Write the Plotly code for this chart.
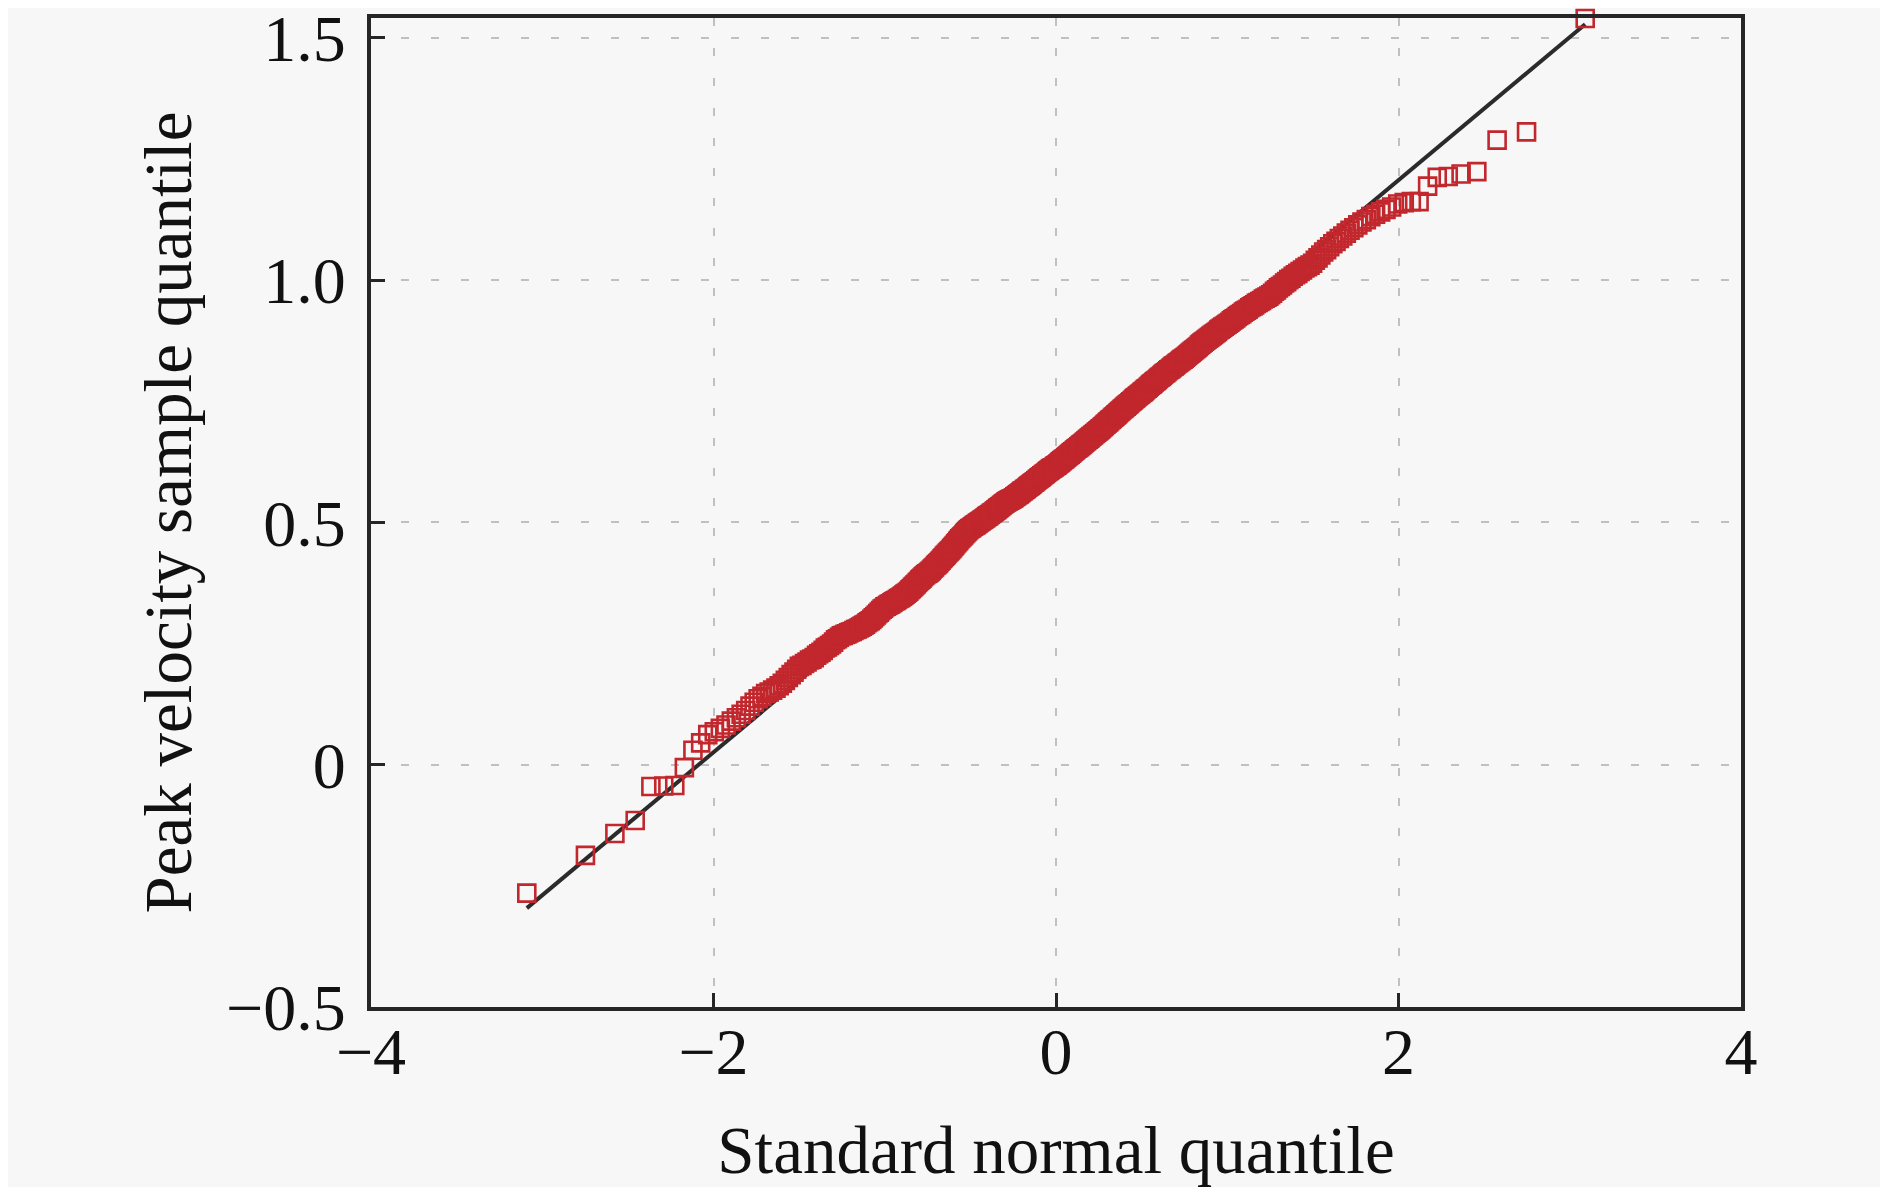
from statistics import NormalDist
import plotly.graph_objects as go

# sorted peak velocity sample (x1000)
peak_velocity_x1000 = [
    -265, -187, -142, -115, -45, -44, -43, -6, 30, 45, 62,
    68, 75, 82, 90, 97, 104, 112, 121, 129,
    136, 141, 147, 150, 154, 158, 163, 168, 174, 180, 186, 191, 197,
    203, 205, 209, 212, 216, 218, 221, 226, 229, 232, 236, 241, 243, 246, 249, 253, 258, 260, 263,
    266, 267, 269, 270, 272, 274, 275, 277, 279, 280, 282, 284, 286, 288, 290, 293, 295, 297, 300,
    303, 306, 309, 312, 315, 318, 321, 323,
    326, 327, 329, 331, 332, 334, 336, 338, 339, 341, 343, 344, 346, 348, 350, 352, 354, 356, 358,
    361, 363, 366, 368, 371, 373, 376, 378, 381, 383, 385, 388, 390, 392, 394,
    395, 397, 399, 401, 404, 406, 408, 411, 413, 415, 417, 420, 422, 425, 427, 430, 432, 434, 437,
    439, 441, 443, 446, 448, 451, 453, 456, 458, 461, 463, 466, 468, 470, 472, 474, 477, 479, 481,
    483, 485, 487,
    488, 489, 491, 492, 494, 495, 496, 498, 499, 501, 502, 503, 505, 506, 507, 509, 510, 512, 513,
    514, 516, 517, 519, 520, 521, 523, 524, 526, 527, 529, 530, 532, 533, 535, 536, 538, 539, 540,
    542, 543, 544, 545, 546, 547, 548, 549,
    550, 551, 553, 554, 555, 557, 558, 559, 561, 562, 564, 565, 566, 568, 569, 570, 572, 573, 575,
    576, 577, 579, 580, 582, 583, 584, 586, 587, 589, 590, 592, 593, 594, 596, 597, 599, 600, 601,
    603, 604, 606, 607, 608, 610, 611, 612, 613, 614, 616, 617,
    618, 619, 621, 622, 624, 625, 627, 628, 630, 631, 632, 634, 635, 637, 638, 640, 641, 643, 644,
    646, 647, 649, 650, 652, 653, 654, 656, 657, 659, 660, 662, 663, 665, 666, 668, 669, 671, 672,
    674, 675, 677, 678, 680, 681, 683, 684, 686, 687, 689,
    690, 692, 693, 695, 697, 698, 700, 702, 703, 705, 707, 708, 710, 712, 713, 715, 717, 718, 720,
    722, 723, 725, 727, 729, 730, 732, 734, 735, 737, 739, 740, 742, 744, 745, 747, 749, 750, 752,
    754, 756, 757, 759, 761, 762, 764, 765,
    767, 769, 770, 772, 774, 776, 777, 779, 781, 783, 785, 786, 788, 790, 792, 793, 795, 797, 799,
    800, 802, 804, 806, 808, 809, 811, 813, 815, 816, 818, 820, 822, 823, 825, 827, 829, 830, 832,
    834, 836, 837,
    839, 841, 843, 845, 847, 849, 851, 853, 855, 857, 859, 861, 863, 866, 868, 870, 872, 874, 876,
    878, 880, 882, 884, 886, 888, 890, 892, 894, 897, 899, 901, 903, 905, 907,
    909, 911, 913, 916, 918, 920, 922, 925, 927, 929, 931, 934, 936, 938, 940, 943, 945, 947, 949,
    952, 954, 956, 958, 961, 963, 965, 967,
    970, 973, 977, 980, 984, 987, 990, 994, 997, 1001, 1004, 1008, 1011, 1014, 1018, 1021, 1025,
    1028, 1031,
    1035, 1041, 1046, 1052, 1058, 1063, 1069, 1075, 1080, 1086, 1091, 1097, 1103, 1108,
    1114, 1120, 1125, 1131, 1136, 1141, 1146, 1151,
    1157, 1160, 1162, 1162, 1194, 1212, 1214, 1219, 1224, 1289, 1306, 1540,
]

# reference line end points
ref_x = [-3.09, 3.09]
ref_y = [-0.296, 1.528]

x_ticks = [-4, -2, 0, 2, 4]
x_ticktext = ["\u22124", "\u22122", "0", "2", "4"]
y_ticks = [-0.5, 0, 0.5, 1.0, 1.5]
y_ticktext = ["\u22120.5", "0", "0.5", "1.0", "1.5"]

sample = [v / 1000 for v in peak_velocity_x1000]
n = len(sample)
nd = NormalDist()
theo = [nd.inv_cdf((i + 0.5) / n) for i in range(n)]

fig = go.Figure()
fig.add_trace(go.Scatter(x=ref_x, y=ref_y, mode="lines",
                         line=dict(color="#2b2b2b", width=4), showlegend=False))
fig.add_trace(go.Scatter(x=theo, y=sample, mode="markers",
                         marker=dict(symbol="square-open", size=17, color="#c1272d",
                                     line=dict(width=2.6, color="#c1272d")),
                         cliponaxis=False, showlegend=False))

axis_style = dict(
    showline=True, mirror=True, linecolor="#262626", linewidth=4,
    ticks="inside", ticklen=14, tickwidth=3, tickcolor="#262626",
    showgrid=True, gridcolor="#c0c0c0", gridwidth=2, griddash="8px,22px",
    zeroline=False, automargin=False, ticklabeloverflow="allow",
    tickfont=dict(family="Liberation Serif", size=66, color="#111111"),
)

# the page body has an 8px margin, so the figure is sized to fit inside the window
fig.update_layout(
    width=1872, height=1179,
    margin=dict(l=363, r=139, t=10, b=180),
    paper_bgcolor="#f7f7f7", plot_bgcolor="#f7f7f7",
    font=dict(family="Liberation Serif", size=56, color="#111111"),
    xaxis=dict(range=[-4, 4], tickvals=x_ticks, ticktext=x_ticktext,
               ticklabelstandoff=-16,
               title=dict(text="Standard normal quantile", standoff=42), **axis_style),
    yaxis=dict(range=[-0.5, 1.541], tickvals=y_ticks, ticktext=y_ticktext,
               ticklabelstandoff=8,
               title=dict(text="Peak velocity sample quantile", standoff=14), **axis_style),
)

fig.write_html("out.html")
